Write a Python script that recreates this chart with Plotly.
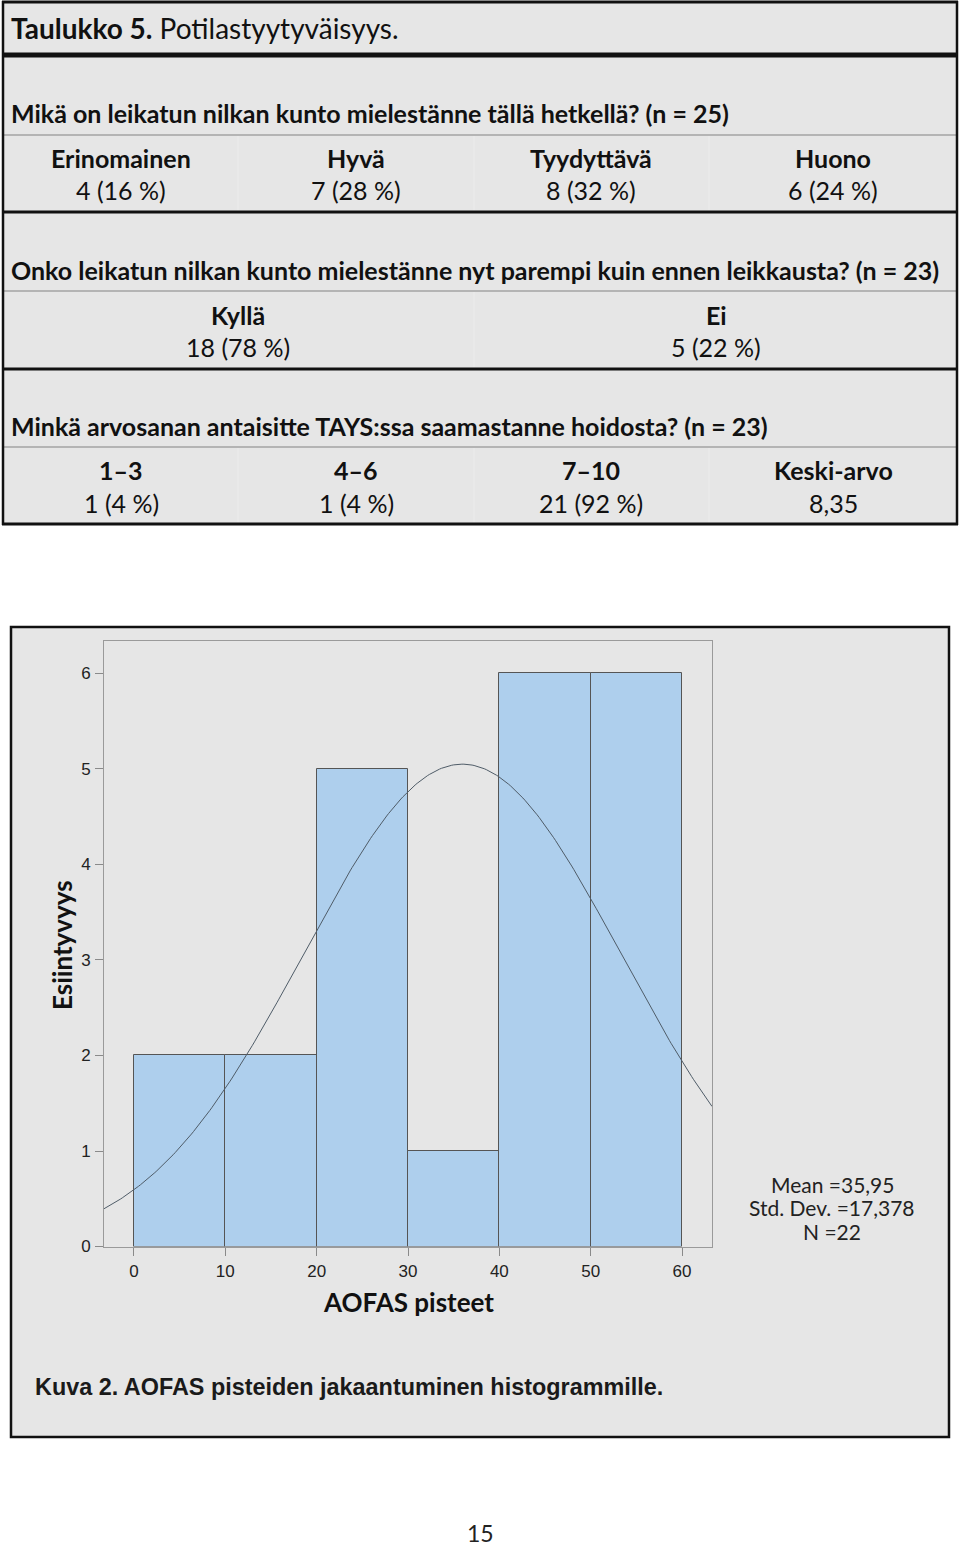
import numpy as np
import plotly.graph_objects as go

# ---------------- data ----------------
table_title_bold = "Taulukko 5."
table_title_rest = " Potilastyytyväisyys."

q1 = "Mikä on leikatun nilkan kunto mielestänne tällä hetkellä? (n = 25)"
q1_heads = ["Erinomainen", "Hyvä", "Tyydyttävä", "Huono"]
q1_vals = ["4 (16 %)", "7 (28 %)", "8 (32 %)", "6 (24 %)"]

q2 = "Onko leikatun nilkan kunto mielestänne nyt parempi kuin ennen leikkausta? (n = 23)"
q2_heads = ["Kyllä", "Ei"]
q2_vals = ["18 (78 %)", "5 (22 %)"]

q3 = "Minkä arvosanan antaisitte TAYS:ssa saamastanne hoidosta? (n = 23)"
q3_heads = ["1–3", "4–6", "7–10", "Keski-arvo"]
q3_vals = ["1 (4 %)", "1 (4 %)", "21 (92 %)", "8,35"]

bin_starts = [0, 10, 20, 30, 40, 50]
bin_width = 10
bin_counts = [2, 2, 5, 1, 6, 6]
x_ticks = [0, 10, 20, 30, 40, 50, 60]
y_ticks = [0, 1, 2, 3, 4, 5, 6]

stat_mean = 35.95
stat_sd = 17.378
stat_n = 22
stats_lines = ["Mean =35,95", "Std. Dev. =17,378", "N =22"]

x_title = "AOFAS pisteet"
y_title = "Esiintyvyys"
caption = "Kuva 2. AOFAS pisteiden jakaantuminen histogrammille."
page_number = "15"

# ---------------- layout helpers ----------------
W, H = 960, 1546
HY = 1536.0  # vertical mapping divisor
def px(x):
    return x / W
def py(y):
    return 1 - y / HY

CAL = "Lato, 'Open Sans', sans-serif"
ARIAL = "'Liberation Sans', Arial, sans-serif"
GRAY_BG = "#e6e6e6"

x_range = [-3.28, 63.28]
y_range = [0, 6.34]

fig = go.Figure()

# histogram bars
fig.add_trace(go.Bar(
    x=[s + bin_width / 2 for s in bin_starts], y=bin_counts, width=bin_width,
    marker=dict(color="#aecfed", line=dict(color="#555555", width=1)),
    hoverinfo="skip", showlegend=False,
))

# normal curve fitted from the reported statistics
xc = np.linspace(x_range[0], x_range[1], 300)
yc = stat_n * bin_width / (stat_sd * np.sqrt(2 * np.pi)) * np.exp(-0.5 * ((xc - stat_mean) / stat_sd) ** 2)
fig.add_trace(go.Scatter(x=xc, y=yc, mode="lines",
                         line=dict(color="#4f5c68", width=1),
                         hoverinfo="skip", showlegend=False))

shapes = []
annotations = []

def rect(x0, y0, x1, y1, fill, line_color=None, lw=0):
    shapes.append(dict(type="rect", xref="paper", yref="paper",
                       x0=px(x0), x1=px(x1), y0=py(y1), y1=py(y0),
                       fillcolor=fill, line=dict(color=line_color or fill, width=lw),
                       layer="below"))

def hline(y, x0, x1, color, lw):
    shapes.append(dict(type="line", xref="paper", yref="paper",
                       x0=px(x0), x1=px(x1), y0=py(y), y1=py(y),
                       line=dict(color=color, width=lw), layer="below"))

def vline(x, y0, y1, color, lw):
    shapes.append(dict(type="line", xref="paper", yref="paper",
                       x0=px(x), x1=px(x), y0=py(y0), y1=py(y1),
                       line=dict(color=color, width=lw), layer="below"))

def text(x, y, s, size, bold=False, anchor="center", family=CAL, color="#111111", angle=0):
    annotations.append(dict(xref="paper", yref="paper", x=px(x), y=py(y),
                            text=("<b>%s</b>" % s) if bold else s,
                            showarrow=False, xanchor=anchor, yanchor="middle",
                            textangle=angle,
                            font=dict(family=family, size=size, color=color)))

# ---------- table ----------
rect(2, 1, 958, 525, GRAY_BG)
for xd in (238, 474, 709):
    vline(xd, 136, 212, "#e9e9e9", 2)
    vline(xd, 448, 524, "#e9e9e9", 2)
vline(474, 292, 368, "#e9e9e9", 2)
for yy in (135, 291, 447):
    hline(yy, 2, 958, "#b4b4b4", 2)
hline(2, 2, 958, "#111111", 3)
hline(55, 2, 958, "#111111", 5)
hline(212, 2, 958, "#111111", 3)
hline(369, 2, 958, "#111111", 3)
hline(524, 2, 958, "#111111", 3)
vline(3, 1, 525, "#111111", 2.5)
vline(957, 1, 525, "#111111", 2.5)

annotations.append(dict(xref="paper", yref="paper", x=px(9), y=py(28),
                        text="<b>%s</b>%s" % (table_title_bold, table_title_rest),
                        showarrow=False, xanchor="left", yanchor="middle",
                        font=dict(family=CAL, size=28, color="#111111")))
TS = 25
text(9, 113, q1, TS, bold=True, anchor="left")
text(9, 270, q2, TS, bold=True, anchor="left")
text(9, 426, q3, TS, bold=True, anchor="left")

c4 = [121, 356, 591, 833]
c2 = [238, 716]
for c, h, v in zip(c4, q1_heads, q1_vals):
    text(c, 158, h, TS, bold=True)
    text(c, 190, v, TS)
for c, h, v in zip(c2, q2_heads, q2_vals):
    text(c, 315, h, TS, bold=True)
    text(c, 347, v, TS)
for c, h, v in zip(c4, q3_heads, q3_vals):
    text(c, 470, h, TS, bold=True)
    text(c, 503, v, TS)

# ---------- figure frame ----------
rect(11, 627, 949, 1437, GRAY_BG, "#111111", 2.5)

text(62, 945, y_title, 26, bold=True, angle=-90)
text(408, 1302, x_title, 26, bold=True)
for i, s in enumerate(stats_lines):
    text(832, 1184 + 23.5 * i, s, 21, color="#222222")
text(33, 1387, caption, 23.4, bold=True, anchor="left", family=ARIAL, color="#1a1a1a")
text(480, 1533, page_number, 23, color="#222222")

x_dom = [px(104), px(712)]
y_dom = [py(1246.5), py(641)]

axis_common = dict(showline=True, linecolor="#9a9a9a", linewidth=1, mirror=True,
                   ticks="outside", ticklen=8, tickcolor="#8a8a8a", tickwidth=1,
                   showgrid=False, zeroline=False,
                   tickfont=dict(family=ARIAL, size=17, color="#222222"))

fig.update_layout(
    width=W, height=H, margin=dict(l=0, r=0, t=0, b=0),
    paper_bgcolor="white", plot_bgcolor="white",
    bargap=0, showlegend=False,
    xaxis=dict(domain=x_dom, range=x_range, tickvals=x_ticks, ticklabelstandoff=1, **axis_common),
    yaxis=dict(domain=y_dom, range=y_range, tickvals=y_ticks, ticklabelstandoff=1, **axis_common),
    shapes=shapes, annotations=annotations,
)

fig.write_html("out.html", config={"displayModeBar": False},
               post_script="document.body.style.margin='0px';document.body.style.overflow='hidden';")
